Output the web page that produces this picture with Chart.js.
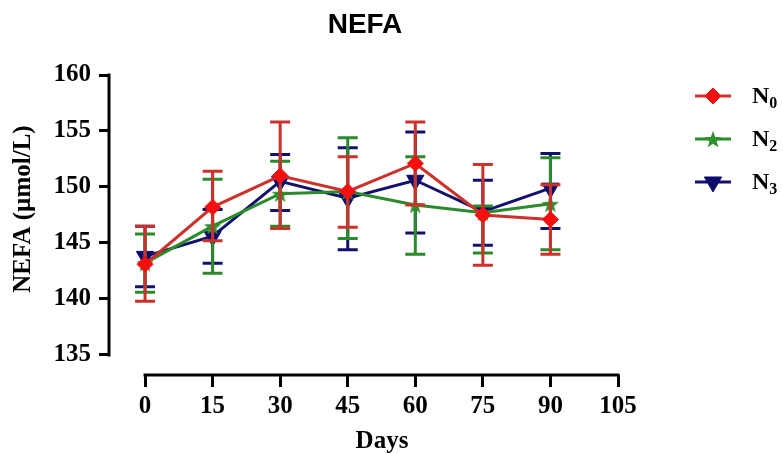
<!DOCTYPE html>
<html>
<head>
<meta charset="utf-8">
<script src="https://cdn.jsdelivr.net/npm/chart.js@4.4.0/dist/chart.umd.min.js"></script>
<style>
  html, body { margin: 0; padding: 0; background: #fff; }
  #wrap { width: 783px; height: 454px; }
</style>
</head>
<body>
<div id="wrap"><canvas id="nefaChart" width="783" height="454"></canvas></div>
<script>
// sampling days and axis ticks
const days = [0, 15, 30, 45, 60, 75, 90];
const xTicks = [0, 15, 30, 45, 60, 75, 90, 105];
const yTicks = [135, 140, 145, 150, 155, 160];
const seriesNames = ['N₀', 'N₂', 'N₃'];

// means and error bar ends (µmol/L)
const n0Mean  = [143.1, 148.2, 151.0, 149.6, 152.1, 147.5, 147.1];
const n0Upper = [146.5, 151.4, 155.8, 152.7, 155.8, 152.0, 150.2];
const n0Lower = [139.8, 145.2, 146.3, 146.4, 148.4, 143.0, 144.0];

const n2Mean  = [143.2, 146.5, 149.4, 149.6, 148.4, 147.7, 148.5];
const n2Upper = [145.8, 150.7, 152.3, 154.4, 152.7, 148.3, 152.6];
const n2Lower = [140.6, 142.3, 146.5, 145.4, 144.0, 144.1, 144.4];

const n3Mean  = [143.8, 145.6, 150.5, 149.0, 150.6, 147.8, 149.9];
const n3Upper = [146.5, 148.0, 152.9, 153.5, 154.9, 150.6, 153.0];
const n3Lower = [141.1, 143.2, 147.9, 144.4, 145.9, 144.8, 146.3];

const RED = '#cc322b', RED_FILL = '#f51010';
const GREEN = '#2b8a2b', GREEN_FILL = '#2e8f2e';
const BLUE = '#12126e', BLUE_FILL = '#0d0d70';
const SERIF = '"Liberation Serif", "Times New Roman", serif';

function starImage(color, r) {
  const c = document.createElement('canvas');
  c.width = c.height = Math.ceil(r * 2 + 2);
  const g = c.getContext('2d');
  const cx = c.width / 2, cy = c.height / 2 + 1;
  g.beginPath();
  for (let i = 0; i < 10; i++) {
    const rad = i % 2 === 0 ? r : r * 0.42;
    const a = -Math.PI / 2 + i * Math.PI / 5;
    g.lineTo(cx + rad * Math.cos(a), cy + rad * Math.sin(a));
  }
  g.closePath();
  g.fillStyle = color;
  g.fill();
  return c;
}
const greenStar = starImage(GREEN_FILL, 9);

function pts(means) {
  return days.map((d, i) => ({ x: d, y: means[i] }));
}

const errorBars = {
  id: 'errorBars',
  beforeDatasetDraw(chart, args) {
    const ds = chart.data.datasets[args.index];
    const xs = chart.scales.x, ys = chart.scales.y;
    const ctx = chart.ctx;
    ctx.save();
    ctx.strokeStyle = ds.borderColor;
    ctx.lineWidth = 3;
    ds.errUpper.forEach((hi, i) => {
      const px = xs.getPixelForValue(days[i]);
      const top = ys.getPixelForValue(hi);
      const bot = ys.getPixelForValue(ds.errLower[i]);
      ctx.beginPath();
      ctx.moveTo(px, top); ctx.lineTo(px, bot);
      ctx.moveTo(px - 10, top); ctx.lineTo(px + 10, top);
      ctx.moveTo(px - 10, bot); ctx.lineTo(px + 10, bot);
      ctx.stroke();
    });
    ctx.restore();
  }
};

const decorations = {
  id: 'decorations',
  beforeDatasetsDraw(chart) {
    const { ctx, chartArea, scales } = chart;
    ctx.save();
    ctx.strokeStyle = '#000';
    ctx.lineWidth = 3;
    ctx.lineCap = 'square';
    ctx.beginPath();
    ctx.moveTo(chartArea.left, scales.y.getPixelForValue(135));
    ctx.lineTo(chartArea.left, scales.y.getPixelForValue(160));
    ctx.moveTo(scales.x.getPixelForValue(0), chartArea.bottom);
    ctx.lineTo(scales.x.getPixelForValue(105), chartArea.bottom);
    ctx.stroke();
    ctx.restore();
  },
  afterDraw(chart) {
    const ctx = chart.ctx;
    ctx.save();
    ctx.fillStyle = '#000';
    ctx.textAlign = 'center';
    ctx.textBaseline = 'middle';
    ctx.font = 'bold 28px "Liberation Sans", Arial, sans-serif';
    ctx.fillText('NEFA', 365, 25);

    ctx.font = 'bold 25px ' + SERIF;
    ctx.fillText('Days', 382, 442);

    ctx.save();
    ctx.translate(24, 209);
    ctx.rotate(-Math.PI / 2);
    ctx.fillText('NEFA (µmol/L)', 0, 0);
    ctx.restore();

    // legend: line through marker, then label with subscript
    chart.data.datasets.forEach((ds, i) => {
      const y = 96 + i * 43;
      ctx.strokeStyle = ds.borderColor;
      ctx.lineWidth = 3;
      ctx.beginPath();
      ctx.moveTo(695, y); ctx.lineTo(731, y);
      ctx.stroke();
      ctx.fillStyle = ds.pointBackgroundColor;
      ctx.strokeStyle = ds.pointBorderColor;
      ctx.lineWidth = 1;
      Chart.helpers.drawPoint(ctx, {
        pointStyle: ds.pointStyle, rotation: ds.pointRotation || 0,
        radius: ds.pointRadius, borderWidth: 1
      }, 713, y);
      const base = ds.label.charAt(0);
      const sub = String.fromCharCode(ds.label.charCodeAt(1) - 0x2080 + 48);
      ctx.fillStyle = '#000';
      ctx.textAlign = 'left';
      ctx.font = 'bold 24px ' + SERIF;
      ctx.fillText(base, 752, y + 1);
      const w = ctx.measureText(base).width;
      ctx.font = 'bold 16px ' + SERIF;
      ctx.fillText(sub, 752 + w, y + 8);
    });
    ctx.restore();
  }
};

const tickFont = { family: SERIF, weight: 'bold', size: 25 };

new Chart(document.getElementById('nefaChart').getContext('2d'), {
  type: 'line',
  data: {
    datasets: [
      {
        label: seriesNames[0], data: pts(n0Mean), errUpper: n0Upper, errLower: n0Lower,
        borderColor: RED, borderWidth: 3, pointStyle: 'rectRot', pointRadius: 8,
        pointBackgroundColor: RED_FILL, pointBorderColor: RED_FILL, pointBorderWidth: 1, tension: 0
      },
      {
        label: seriesNames[1], data: pts(n2Mean), errUpper: n2Upper, errLower: n2Lower,
        borderColor: GREEN, borderWidth: 3, pointStyle: greenStar, pointRadius: 9,
        pointBackgroundColor: GREEN_FILL, pointBorderColor: GREEN_FILL, pointBorderWidth: 1, tension: 0
      },
      {
        label: seriesNames[2], data: pts(n3Mean), errUpper: n3Upper, errLower: n3Lower,
        borderColor: BLUE, borderWidth: 3, pointStyle: 'triangle', pointRotation: 180, pointRadius: 10,
        pointBackgroundColor: BLUE_FILL, pointBorderColor: BLUE_FILL, pointBorderWidth: 1, tension: 0
      }
    ]
  },
  options: {
    responsive: false,
    animation: false,
    layout: { padding: { top: 75, right: 165, left: 0, bottom: 0 } },
    plugins: { legend: { display: false }, title: { display: false }, tooltip: { enabled: false } },
    scales: {
      x: {
        type: 'linear', min: -8, max: 105,
        afterBuildTicks: s => { s.ticks = xTicks.map(v => ({ value: v })); },
        afterFit: s => { s.height = 79; },
        grid: { display: true, drawOnChartArea: false, drawTicks: true, tickLength: 12, lineWidth: 3, color: '#000' },
        border: { display: false },
        ticks: { font: tickFont, color: '#000', padding: 5, maxRotation: 0 }
      },
      y: {
        min: 133.21, max: 160,
        afterBuildTicks: s => { s.ticks = yTicks.map(v => ({ value: v })); },
        afterFit: s => { s.width = 109; },
        grid: { display: true, drawOnChartArea: false, drawTicks: true, tickLength: 10, lineWidth: 3, color: '#000' },
        border: { display: false },
        ticks: { font: tickFont, color: '#000', padding: 8 }
      }
    }
  },
  plugins: [errorBars, decorations]
});
</script>
</body>
</html>
